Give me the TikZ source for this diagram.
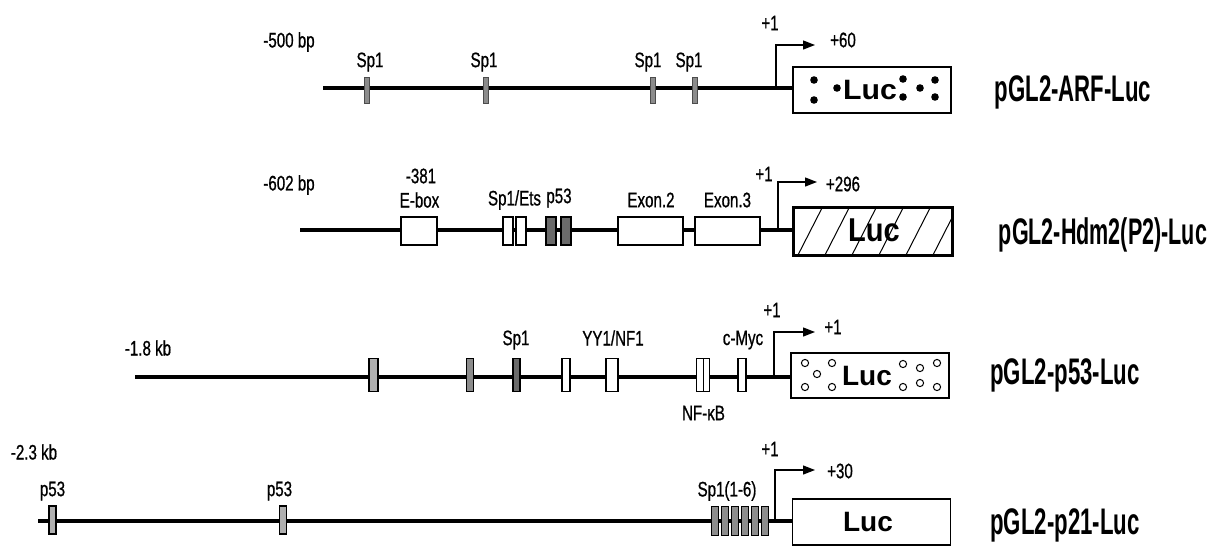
\documentclass[tikz,border=0pt]{standalone}
\usepackage{fontspec}
\setmainfont{Liberation Sans}
\newfontfamily\smf[FakeStretch=0.72,FakeBold=0.8]{Liberation Sans}
\newfontfamily\bigf[FakeStretch=0.6]{Liberation Sans Bold}
\usetikzlibrary{arrows.meta}
\definecolor{gLight}{HTML}{B0B0B0}
\definecolor{gMid}{HTML}{8C8C8C}
\definecolor{gDark}{HTML}{6A6A6A}
\tikzset{
  dna/.style={line width=4pt, black},
  elem/.style={draw=black, line width=1.2pt, fill=white, inner sep=0pt},
  gelem/.style={elem, fill=#1},
  tickbox/.style={draw=black!70, line width=0.8pt, fill=gMid, inner sep=0pt, minimum width=4.5pt, minimum height=26pt},
  lucbox/.style={draw=black, line width=1.6pt, fill=white, inner sep=0pt, minimum width=158pt, minimum height=46pt},
  promo/.style={line width=1.3pt, -{Triangle[length=12pt,width=9pt]}},
  sm/.style={inner sep=0pt, font=\smf\fontsize{21}{25}\selectfont},
  big/.style={inner sep=0pt, font=\bigf\fontsize{37}{44}\selectfont},
  dot/.style={fill=black},
  ring/.style={draw=black, line width=1pt, fill=white},
}
\begin{document}
\begin{tikzpicture}[x=1pt, y=-1pt]
\useasboundingbox (0,0) rectangle (1229,547);

% ---------------- Row 1: pGL2-ARF-Luc ----------------
\coordinate (s1) at (323,88);
\node[lucbox] (b1) at (872,90) {};
\draw[dna] (s1) -- (s1 -| b1.west);
\foreach \x/\n in {367/a,486/b,653/c,695/d} \node[tickbox] (t1\n) at (\x,90) {};
\node[sm] (l1a) at (289,42) {-500 bp};
\node[sm] (l1b) at (370,62) {Sp1};
\node[sm] (l1c) at (484,62) {Sp1};
\node[sm] (l1d) at (648,62) {Sp1};
\node[sm] (l1e) at (689,62) {Sp1};
\coordinate (p1) at (776,88);
\coordinate (h1) at (815,45);
\draw[promo] (p1) |- (h1);
\node[sm] (l1f) at (770,23) {+1};
\node[sm] (l1g) at (843,40) {+60};
\node[inner sep=0pt, font=\bfseries\fontsize{28}{30}\selectfont] (lu1) at (870,90) {\scalebox{1.08}[1]{Luc}};
\foreach \x/\y in {814/80,814/100,837/88,903/79,903/97,920/88,935/80,935/97}
  \fill[dot] (\x,\y) circle (3.8);
\node[big] (n1) at (1073,92) {pGL2-ARF-Luc};

% ---------------- Row 2: pGL2-Hdm2(P2)-Luc ----------------
\coordinate (s2) at (300,230);
\node[lucbox, minimum height=47pt] (b2) at (873,231.5) {};
\draw[dna] (s2) -- (s2 -| b2.west);
\node[elem, minimum width=36pt, minimum height=28pt] (e2a) at (419,231) {};
\node[elem, minimum width=10pt, minimum height=28pt] (e2b) at (508,231) {};
\node[elem, minimum width=10pt, minimum height=28pt] (e2c) at (521,231) {};
\node[gelem=gDark, minimum width=10pt, minimum height=28pt] (e2d) at (551,231) {};
\node[gelem=gDark, minimum width=10pt, minimum height=28pt] (e2e) at (566,231) {};
\node[elem, minimum width=65pt, minimum height=28pt] (e2f) at (650.5,231) {};
\node[elem, minimum width=65pt, minimum height=28pt] (e2g) at (727.5,231) {};
\begin{scope}
  \clip (b2.south west) rectangle (b2.north east);
  \foreach \x in {771,798,...,960} \draw[line width=1pt] (\x,255) -- ++(24,-47);
\end{scope}
\draw[line width=1.6pt] (b2.south west) rectangle (b2.north east);
\node[inner sep=0pt, font=\bfseries\fontsize{33}{36}\selectfont] (lu2) at (874,230) {\scalebox{0.88}[1]{Luc}};
\node[sm] (l2a) at (289,185) {-602 bp};
\node[sm] (l2b) at (421,176) {-381};
\node[sm] (l2c) at (419.5,200) {E-box};
\node[sm] (l2d) at (514.5,200) {Sp1/Ets};
\node[sm] (l2e) at (559,198) {p53};
\node[sm] (l2f) at (651,200) {Exon.2};
\node[sm] (l2g) at (727.5,200) {Exon.3};
\coordinate (p2) at (778,230);
\coordinate (h2) at (817,182);
\draw[promo] (p2) |- (h2);
\node[sm] (l2h) at (764,174) {+1};
\node[sm] (l2i) at (843,184) {+296};
\node[big] (n2) at (1103,235) {\scalebox{0.97}[1]{pGL2-Hdm2(P2)-Luc}};

% ---------------- Row 3: pGL2-p53-Luc ----------------
\coordinate (s3) at (135,377);
\node[lucbox, minimum height=45pt] (b3) at (870,375.5) {};
\draw[dna] (s3) -- (s3 -| b3.west);
\node[gelem=gLight, minimum width=9pt, minimum height=33pt] (e3a) at (373.5,375) {};
\node[gelem=gMid, minimum width=6.5pt, minimum height=33pt] (e3b) at (470,375) {};
\node[gelem=gDark, minimum width=7pt, minimum height=33pt] (e3c) at (516.5,375) {};
\node[elem, minimum width=8pt, minimum height=33pt] (e3d) at (566,375) {};
\node[elem, minimum width=12pt, minimum height=33pt] (e3e) at (612,375) {};
\node[elem, minimum width=6.5pt, minimum height=33pt] (e3f) at (700,375) {};
\node[elem, minimum width=6.5pt, minimum height=33pt] (e3g) at (706.5,375) {};
\node[elem, minimum width=8pt, minimum height=33pt] (e3h) at (742,375) {};
\node[sm] (l3a) at (148,348) {-1.8 kb};
\node[sm] (l3b) at (516,340) {Sp1};
\node[sm] (l3c) at (613,338) {YY1/NF1};
\node[sm] (l3d) at (703.5,413) {NF-κB};
\node[sm] (l3e) at (743,340) {c-Myc};
\coordinate (p3) at (774,376);
\coordinate (h3) at (815,332);
\draw[promo] (p3) |- (h3);
\node[sm] (l3f) at (772,310) {+1};
\node[sm] (l3g) at (833,327) {+1};
\foreach \x/\y in {805/363,817/374,805/387,832/363,832/387,903/364,920/368,937/363,903/387,920/383,937/387}
  \draw[ring] (\x,\y) circle (3.6);
\node[inner sep=0pt, font=\bfseries\fontsize{28}{30}\selectfont] (lu3) at (867,376) {Luc};
\node[big] (n3) at (1065,375) {pGL2-p53-Luc};

% ---------------- Row 4: pGL2-p21-Luc ----------------
\coordinate (s4) at (38,521);
\node[lucbox] (b4) at (871.5,522) {};
\draw[dna] (s4) -- (s4 -| b4.west);
\node[gelem=gLight, minimum width=7pt, minimum height=28pt] (e4a) at (52.5,520) {};
\node[gelem=gLight, minimum width=6.5pt, minimum height=28pt] (e4b) at (283,520) {};
\foreach \x/\n in {715/a,725/b,735/c,745/d,755/e,765/f}
  \node[gelem=gMid, minimum width=6.5pt, minimum height=29pt, line width=1pt] (sp\n) at (\x,520.5) {};
\node[sm] (l4a) at (34,452) {-2.3 kb};
\node[sm] (l4b) at (52.5,491) {p53};
\node[sm] (l4c) at (279.5,491) {p53};
\node[sm] (l4d) at (727,491) {Sp1(1-6)};
\coordinate (p4) at (775,521);
\coordinate (h4) at (815,470);
\draw[promo] (p4) |- (h4);
\node[sm] (l4e) at (770,449) {+1};
\node[sm] (l4f) at (840,471) {+30};
\node[inner sep=0pt, font=\bfseries\fontsize{28}{30}\selectfont] (lu4) at (868,522) {Luc};
\node[big] (n4) at (1065,525) {pGL2-p21-Luc};
\end{tikzpicture}
\end{document}
